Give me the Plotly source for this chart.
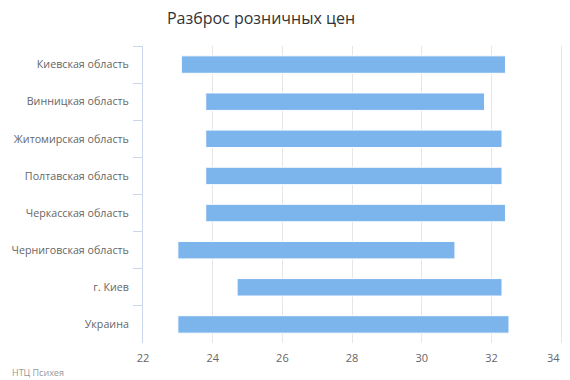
import plotly.graph_objects as go

categories = ["Киевская область", "Винницкая область", "Житомирская область",
              "Полтавская область", "Черкасская область", "Черниговская область",
              "г. Киев", "Украина"]
low = [23.1, 23.8, 23.8, 23.8, 23.8, 23.0, 24.7, 23.0]
high = [32.4, 31.8, 32.3, 32.3, 32.4, 30.95, 32.3, 32.5]
x_ticks = [22, 24, 26, 28, 30, 32, 34]
x_tick_labels = ["22", "24", "26", "28", "30", "32", ""]
last_tick_label = "34"

FONT = "Open Sans, DejaVu Sans, sans-serif"

fig = go.Figure()
fig.add_trace(go.Bar(
    y=categories,
    x=[h - l for h, l in zip(high, low)],
    base=low,
    orientation="h",
    marker=dict(color="#7cb5ec", line=dict(color="#ffffff", width=1)),
    width=0.47,
    showlegend=False,
))

fig.update_layout(
    width=570, height=380,
    margin=dict(l=143, r=7, t=46, b=37, autoexpand=False),
    paper_bgcolor="white", plot_bgcolor="white",
    font=dict(family=FONT, color="#666666", size=11),
    title=dict(text="Разброс розничных цен", x=261/570, xanchor="center",
               y=1 - 18/380, yanchor="middle",
               font=dict(family=FONT, size=16, color="#333333")),
)
fig.update_xaxes(
    range=[22, 34.05], tickvals=x_ticks, ticktext=x_tick_labels,
    showgrid=True, gridcolor="#e6e6e6", gridwidth=1,
    zeroline=False, showline=False, ticks="", automargin=False,
    ticklabelstandoff=7,
    tickfont=dict(size=11, color="#666666"),
)
fig.update_yaxes(
    categoryorder="array", categoryarray=categories, autorange="reversed",
    showline=True, linecolor="#ccd6eb", linewidth=1,
    ticks="outside", tickson="boundaries", ticklen=9, tickcolor="#ccd6eb",
    showgrid=False, automargin=False, ticklabelstandoff=11,
    tickfont=dict(size=10.7, color="#666666"),
)
fig.add_annotation(text=last_tick_label, xref="x", yref="paper",
                   x=x_ticks[-1], xshift=-8, y=0, yshift=-14, yanchor="middle",
                   showarrow=False, font=dict(size=11, color="#666666", family=FONT))
fig.add_annotation(text="НТЦ Психея", xref="paper", yref="paper",
                   x=-133/420, y=-(372 - 343) / 297, xanchor="left", yanchor="middle",
                   showarrow=False, font=dict(size=9, color="#999999", family=FONT))

fig.write_html("out.html", config={"displayModeBar": False},
               post_script="document.body.style.margin='0';document.body.style.overflow='hidden';")
